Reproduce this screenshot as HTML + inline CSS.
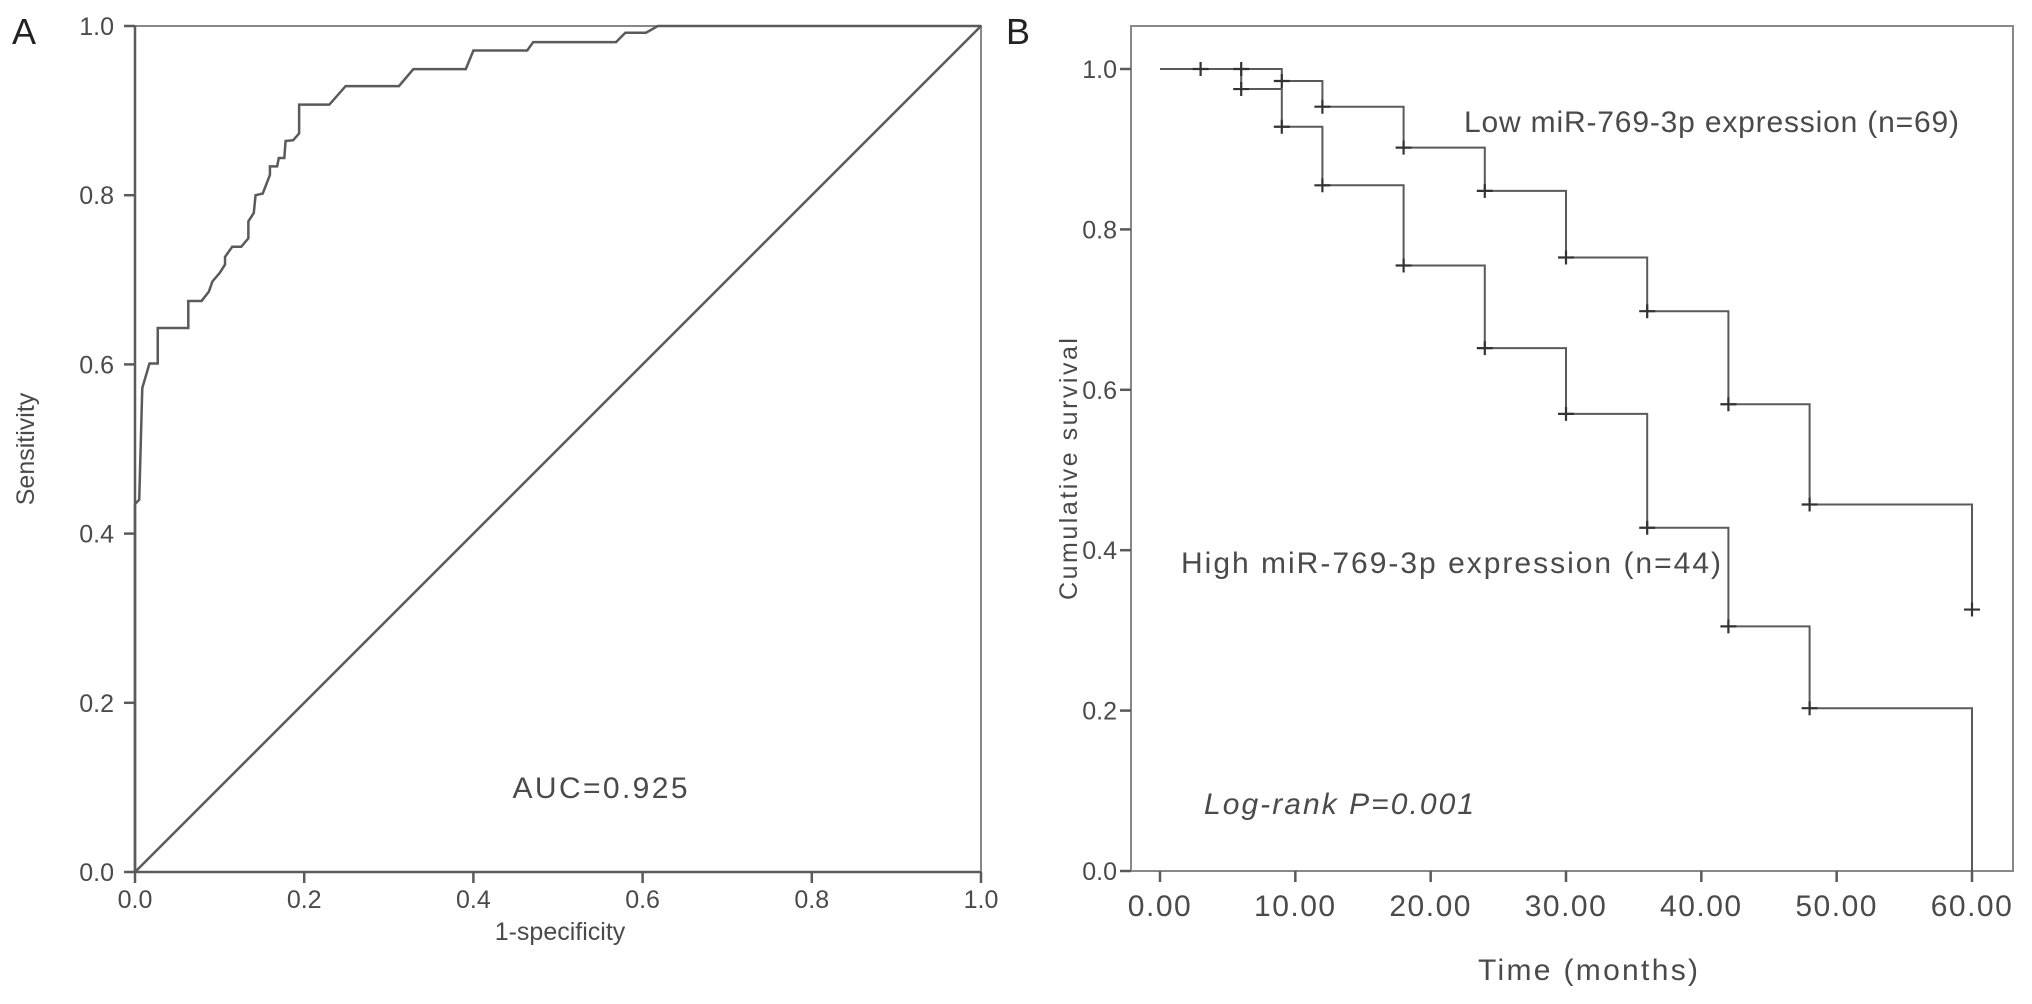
<!DOCTYPE html>
<html><head><meta charset="utf-8"><style>
html,body{margin:0;padding:0;background:#fff;}
svg{display:block;font-family:"Liberation Sans",sans-serif;}
</style></head><body>
<svg id="chart" width="2032" height="1004" viewBox="0 0 2032 1004">
<g id="A"></g>
<g id="B"></g>
</svg>
<script>
const rocFpr=[0,0,0.005,0.0086,0.0171,0.0269,0.0269,0.063,0.063,0.0787,0.0873,0.0915,0.100,0.1064,0.1064,0.1149,0.1255,0.134,0.134,0.1404,0.1425,0.151,0.1595,0.1595,0.168,0.170,0.1765,0.178,0.187,0.194,0.194,0.2297,0.249,0.312,0.329,0.391,0.400,0.4636,0.4707,0.5686,0.5796,0.604,0.618,1];
const rocTpr=[0,0.435,0.44,0.572,0.601,0.601,0.643,0.643,0.675,0.675,0.686,0.698,0.708,0.718,0.727,0.739,0.739,0.749,0.769,0.779,0.800,0.802,0.824,0.834,0.834,0.844,0.844,0.864,0.865,0.873,0.907,0.907,0.929,0.929,0.949,0.949,0.971,0.971,0.981,0.981,0.992,0.992,1,1];
const rocTicks=["0.0","0.2","0.4","0.6","0.8","1.0"];
const lowTimes=[0,9,12,18,24,30,36,42,48,60];
const lowSurv=[1,0.985,0.953,0.902,0.848,0.765,0.698,0.582,0.457,0.326];
const lowCensT=[3,6,9,12,18,24,30,36,42,48,60];
const lowCensS=[1,1,0.985,0.953,0.902,0.848,0.765,0.698,0.582,0.457,0.326];
const highTimes=[0,6,9,12,18,24,30,36,42,48,60];
const highSurv=[1,0.975,0.928,0.855,0.755,0.652,0.57,0.428,0.305,0.203,0];
const highCensT=[6,9,12,18,24,30,36,42,48];
const highCensS=[0.975,0.928,0.855,0.755,0.652,0.57,0.428,0.305,0.203];
const kmXTicks=["0.00","10.00","20.00","30.00","40.00","50.00","60.00"];
const kmYTicks=["0.0","0.2","0.4","0.6","0.8","1.0"];

const NS="http://www.w3.org/2000/svg";
const LC="#5a5a5a", TC="#4a4a4a", FS=30, TS=25;
function mk(p,tag,at,txt){const e=document.createElementNS(NS,tag);for(const k in at)e.setAttribute(k,at[k]);if(txt!==undefined)e.textContent=txt;p.appendChild(e);return e;}

// Panel A
const A=document.getElementById('A');
const ax=v=>135+v*846, ay=v=>872-v*846;
let t=mk(A,'text',{x:12,y:44,'font-size':36,fill:'#222'},'A');


let fr=mk(A,'rect',{x:ax(0),y:ay(1),width:846,height:846,fill:'none',stroke:'#888','stroke-width':2});


let ref=mk(A,'line',{x1:ax(0),y1:ay(0),x2:ax(1),y2:ay(1),stroke:LC,'stroke-width':2.5});


rocTicks.forEach((lb,i)=>{const v=i/5;
 let l=mk(A,'line',{x1:ax(v),y1:ay(0),x2:ax(v),y2:ay(0)+11,stroke:LC,'stroke-width':2.5});
 
 
 let tx=mk(A,'text',{x:ax(v),y:908,'font-size':TS,fill:TC,'text-anchor':'middle'},lb);
 
 
 let l2=mk(A,'line',{x1:ax(0)-11,y1:ay(v),x2:ax(0),y2:ay(v),stroke:LC,'stroke-width':2.5});
 
 
 let ty=mk(A,'text',{x:114,y:ay(v)+9,'font-size':TS,fill:TC,'text-anchor':'end'},lb);
 
 
});
let axl=mk(A,'line',{x1:ax(0),y1:ay(0),x2:ax(1),y2:ay(0),stroke:LC,'stroke-width':2.5});


let ayl=mk(A,'line',{x1:ax(0),y1:ay(0),x2:ax(0),y2:ay(1),stroke:LC,'stroke-width':2.5});


let rp=mk(A,'polyline',{points:rocFpr.map((f,i)=>ax(f)+','+ay(rocTpr[i])).join(' '),fill:'none',stroke:LC,'stroke-width':2.5});


t=mk(A,'text',{x:560,y:940,'font-size':TS,fill:TC,'text-anchor':'middle'},'1-specificity');


t=mk(A,'text',{x:0,y:0,'font-size':TS,fill:TC,'text-anchor':'middle',transform:'translate(34,449) rotate(-90)'},'Sensitivity');


t=mk(A,'text',{x:600,y:798,'font-size':FS,fill:TC,'text-anchor':'middle',textLength:175,lengthAdjust:'spacing'},'AUC=0.925');



// Panel B
const B=document.getElementById('B');
const bx=v=>1160+v*(812/60), by=v=>871-v*802;
t=mk(B,'text',{x:1006,y:44,'font-size':36,fill:'#222'},'B');


fr=mk(B,'rect',{x:1131,y:26,width:882,height:845,fill:'none',stroke:'#888','stroke-width':2});


kmXTicks.forEach((lb,i)=>{const v=i*10;
 let l=mk(B,'line',{x1:bx(v),y1:871,x2:bx(v),y2:882,stroke:LC,'stroke-width':2.5});
 
 
 let tx=mk(B,'text',{x:bx(v),y:916,'font-size':FS,fill:TC,'text-anchor':'middle','letter-spacing':1.5},lb);
 
 
});
kmYTicks.forEach((lb,i)=>{const v=i/5;
 let l=mk(B,'line',{x1:1120,y1:by(v),x2:1131,y2:by(v),stroke:LC,'stroke-width':2.5});
 
 
 let ty=mk(B,'text',{x:1117,y:by(v)+9,'font-size':TS,fill:TC,'text-anchor':'end'},lb);
 
 
});
function stepPts(ts,ss){let p=[];for(let i=0;i<ts.length;i++){if(i>0)p.push(bx(ts[i])+','+by(ss[i-1]));p.push(bx(ts[i])+','+by(ss[i]));}return p.join(' ');}
let lowL=mk(B,'polyline',{points:stepPts(lowTimes,lowSurv),fill:'none',stroke:LC,'stroke-width':2});


let hiL=mk(B,'polyline',{points:stepPts(highTimes,highSurv),fill:'none',stroke:LC,'stroke-width':2});


function cens(ts,ss,name){ts.forEach((tt,i)=>{
 let c=mk(B,'path',{d:`M${bx(tt)-8},${by(ss[i])}h16M${bx(tt)},${by(ss[i])-7}v14`,stroke:'#333','stroke-width':2.2});
 
 
});}
cens(lowCensT,lowCensS,'low-censor-mark');
cens(highCensT,highCensS,'high-censor-mark');
t=mk(B,'text',{x:1464,y:132,'font-size':FS,fill:TC,textLength:495,lengthAdjust:'spacing'},'Low miR-769-3p expression (n=69)');


t=mk(B,'text',{x:1181,y:573,'font-size':FS,fill:TC,textLength:540,lengthAdjust:'spacing'},'High miR-769-3p expression (n=44)');


t=mk(B,'text',{x:1204,y:814,'font-size':FS,fill:TC,'font-style':'italic',textLength:270,lengthAdjust:'spacing'},'Log-rank P=0.001');


t=mk(B,'text',{x:1588,y:980,'font-size':FS,fill:TC,'text-anchor':'middle',textLength:220,lengthAdjust:'spacing'},'Time (months)');


t=mk(B,'text',{x:0,y:0,'font-size':TS,fill:TC,'text-anchor':'middle',textLength:262,lengthAdjust:'spacing',transform:'translate(1077,469) rotate(-90)'},'Cumulative survival');


</script>
</body></html>
